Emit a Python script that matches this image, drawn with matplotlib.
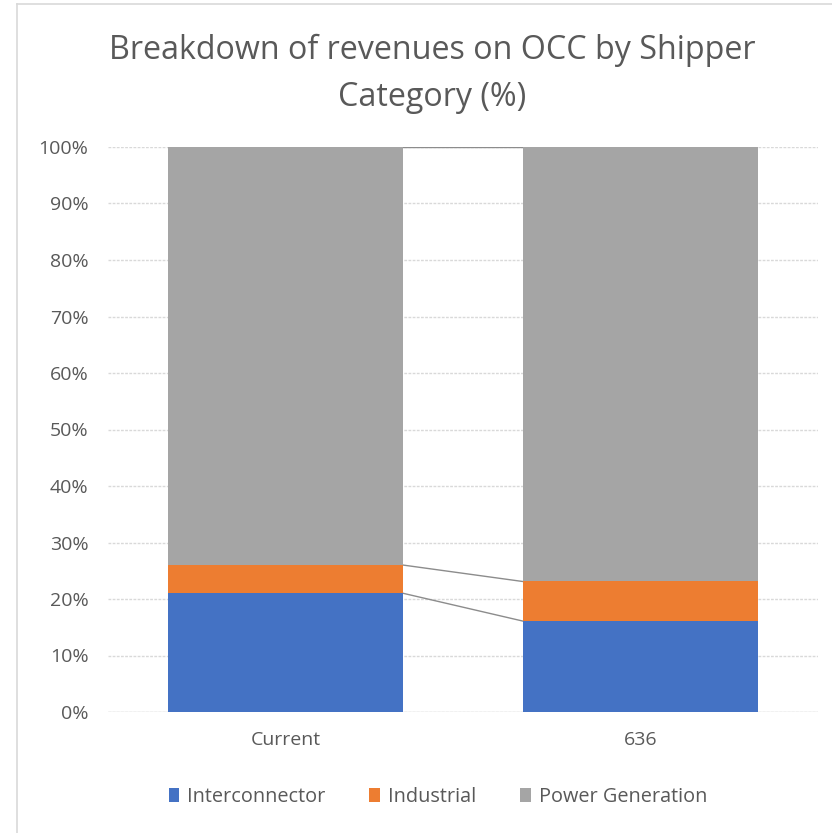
import matplotlib
matplotlib.use("Agg")
import matplotlib.pyplot as plt
from matplotlib.lines import Line2D
import numpy as np

categories = ["Current", "636"]
series_names = ["Interconnector", "Industrial", "Power Generation"]
interconnector = [21.0, 16.1]
industrial = [5.0, 7.0]
power_generation = [74.0, 76.9]
yticks = [0, 10, 20, 30, 40, 50, 60, 70, 80, 90, 100]

colors = ["#4472C4", "#ED7D31", "#A5A5A5"]
text_col = "#595959"

plt.rcParams['font.family'] = ['Open Sans', 'DejaVu Sans']

W, H = 832, 833
fig = plt.figure(figsize=(W / 100, H / 100), dpi=100)
ax = fig.add_axes([108 / W, 1 - 712 / H, (818 - 108) / W, (712 - 147) / H])

x = np.arange(len(categories))
width = 0.664
data = [interconnector, industrial, power_generation]
bottom = np.zeros(len(categories))
handles = []
tops = []
for vals, col, name in zip(data, colors, series_names):
    vals = np.array(vals)
    h = ax.bar(x, vals, width, bottom=bottom, color=col, label=name, zorder=3)
    handles.append(h)
    bottom = bottom + vals
    tops.append(bottom.copy())

# series lines
for t in tops:
    ax.plot([x[0] + width / 2, x[1] - width / 2], [t[0], t[1]],
            color="#8C8C8C", lw=1.0, zorder=2)

ax.set_xlim(-0.5, 1.5)
ax.set_ylim(0, 100)
ax.set_yticks(yticks)
ax.set_yticklabels([f"{v}%" for v in yticks])
ax.set_xticks(x)
ax.set_xticklabels(categories)
ax.tick_params(axis='both', length=0, labelsize=14, colors=text_col)
ax.tick_params(axis='y', pad=14)
ax.tick_params(axis='x', pad=14)
ax.yaxis.grid(True, color="#D9D9D9", lw=1.0, linestyle=(0, (2, 1)), zorder=0)
for s in ax.spines.values():
    s.set_visible(False)
ax.axhline(0, color="#D9D9D9", lw=1.0, zorder=1)

fig.text(0.519, 1 - 50 / H, "Breakdown of revenues on OCC by Shipper", ha='center', va='center',
         fontsize=23.2, color=text_col)
fig.text(0.519, 1 - 97 / H, "Category (%)", ha='center', va='center',
         fontsize=23.2, color=text_col)

fig.legend(handles=handles, labels=series_names, loc='center', ncol=3,
           bbox_to_anchor=(438 / W, 1 - 797 / H), frameon=False, fontsize=14.3,
           handlelength=0.55, handleheight=0.65, handletextpad=0.4, columnspacing=2.2,
           labelcolor=text_col)

# chart-area border (cropped: only left and top edges visible)
fig.add_artist(Line2D([17 / W, 17 / W], [0, 1 - 4 / H], transform=fig.transFigure,
                      color="#D9D9D9", lw=1.2))
fig.add_artist(Line2D([17 / W, 1], [1 - 4 / H, 1 - 4 / H], transform=fig.transFigure,
                      color="#D9D9D9", lw=1.2))

fig.savefig("out.png", dpi=100)
